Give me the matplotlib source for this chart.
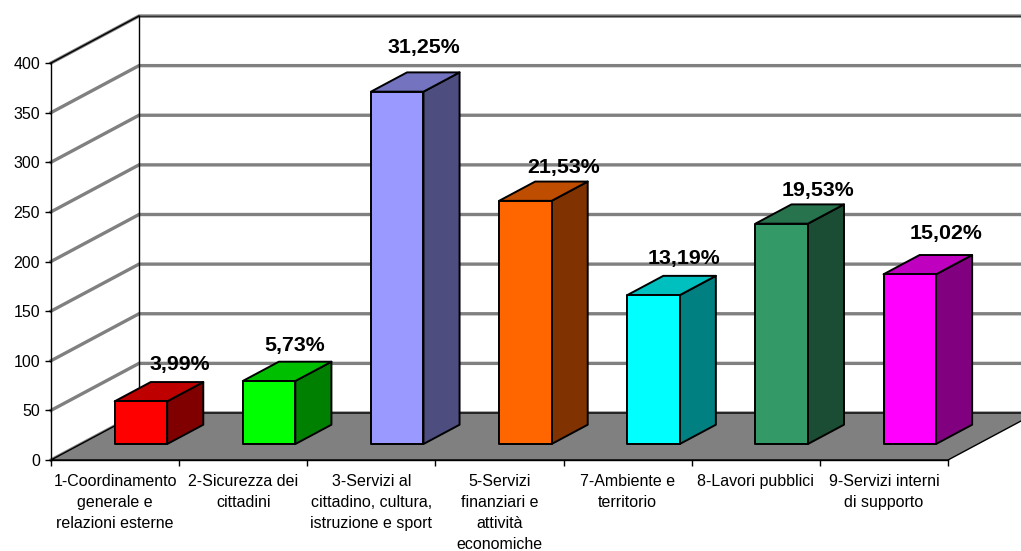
import matplotlib
matplotlib.use('Agg')
import matplotlib.pyplot as plt
from matplotlib.patches import Polygon

plt.rcParams['font.family'] = ['Liberation Sans', 'DejaVu Sans']

categories = ['1-Coordinamento\ngenerale e\nrelazioni esterne', '2-Sicurezza dei\ncittadini',
              '3-Servizi al\ncittadino, cultura,\nistruzione e sport',
              '5-Servizi\nfinanziari e\nattività\neconomiche',
              '7-Ambiente e\nterritorio', '8-Lavori pubblici', '9-Servizi interni\ndi supporto']
values = [43, 63.5, 355, 245, 150, 222, 171]
percent_labels = ['3,99%', '5,73%', '31,25%', '21,53%', '13,19%', '19,53%', '15,02%']
front_colors = ['#ff0000', '#00ff00', '#9999ff', '#ff6600', '#00ffff', '#339966', '#ff00ff']
y_ticks = [0, 50, 100, 150, 200, 250, 300, 350, 400]

# label offsets from the bar's top left corner, in pixels
label_dx = [65, 52, 53, 65, 57, 63, 63]
label_dy = [37, 35, 44, 33, 37, 33, 41]

W, H = 1021, 551
X0, X1, Y0, Y400 = 51, 948, 460, 63
px_x = (X1 - X0) / 7
px_y = (Y0 - Y400) / 400

# depth of the fake 3d box, in data units
DX = 88 / px_x
DY = 47 / px_y
bar_start = 16 / 47        # where the bars begin inside the depth
bar_depth = 0.41
bar_left = 0.263
bar_width = 0.41


def shade(color, k):
    rgb = matplotlib.colors.to_rgb(color)
    return tuple(c * k for c in rgb)


fig = plt.figure(figsize=(W / 100, H / 100), dpi=100)
ax = fig.add_axes([X0 / W, (H - Y0) / H, (X1 - X0) / W, (Y0 - Y400) / H])
ax.set_xlim(0, 7)
ax.set_ylim(0, 400)
ax.patch.set_visible(False)
for s in ['top', 'right']:
    ax.spines[s].set_visible(False)
for s in ['left', 'bottom']:
    ax.spines[s].set_linewidth(1.0)
    ax.spines[s].set_zorder(6)

far = 7 + DX + 1

# walls
for v in y_ticks:
    ax.plot([0, DX, far], [v, v + DY, v + DY], color='#808080', lw=2.4, clip_on=False,
            zorder=1, solid_joinstyle='miter')
ax.plot([0, DX], [400, 400 + DY], color='black', lw=1.0, clip_on=False, zorder=2)
ax.plot([DX, far], [400 + DY, 400 + DY], color='#333333', lw=1.0, clip_on=False, zorder=2)
ax.plot([DX, DX], [DY, 400 + DY], color='black', lw=1.0, clip_on=False, zorder=2)

# floor
floor = Polygon([(0, 0), (DX, DY), (7 + DX, DY), (7, 0)], closed=True, facecolor='#808080',
                edgecolor='black', lw=1.0, clip_on=False, zorder=3)
ax.add_patch(floor)

# bars
ox = bar_start * DX
oy = bar_start * DY
bx = bar_depth * DX
by = bar_depth * DY
for i, (val, col) in enumerate(zip(values, front_colors)):
    l = i + bar_left + ox
    r = l + bar_width
    b = oy
    t = oy + val
    kw = dict(closed=True, edgecolor='black', lw=1.4, clip_on=False, zorder=4, joinstyle='round')
    ax.add_patch(Polygon([(r, b), (r + bx, b + by), (r + bx, t + by), (r, t)],
                         facecolor=shade(col, 0.5), **kw))
    ax.add_patch(Polygon([(l, t), (r, t), (r + bx, t + by), (l + bx, t + by)],
                         facecolor=shade(col, 0.75), **kw))
    ax.add_patch(Polygon([(l, b), (r, b), (r, t), (l, t)], facecolor=col, **kw))
    ax.annotate(percent_labels[i], xy=(l, t), xytext=(label_dx[i] * 0.72, label_dy[i] * 0.72),
                textcoords='offset points', ha='center', va='center', fontsize=15.4,
                fontweight='bold', color='black', zorder=7, annotation_clip=False)

# ticks
ax.set_yticks(y_ticks)
ax.tick_params(axis='y', length=4.3, width=1.0, pad=3.5, labelsize=11.5, direction='out')
ax.set_xticks(range(8))
ax.set_xticklabels([])
ax.tick_params(axis='x', which='major', length=4.3, width=1.0, direction='out')
ax.set_xticks([i + 0.5 for i in range(7)], minor=True)
ax.set_xticklabels(categories, minor=True, linespacing=1.49)
ax.tick_params(axis='x', which='minor', length=0, pad=10, labelsize=11.5)

fig.savefig('out.png', dpi=100)
